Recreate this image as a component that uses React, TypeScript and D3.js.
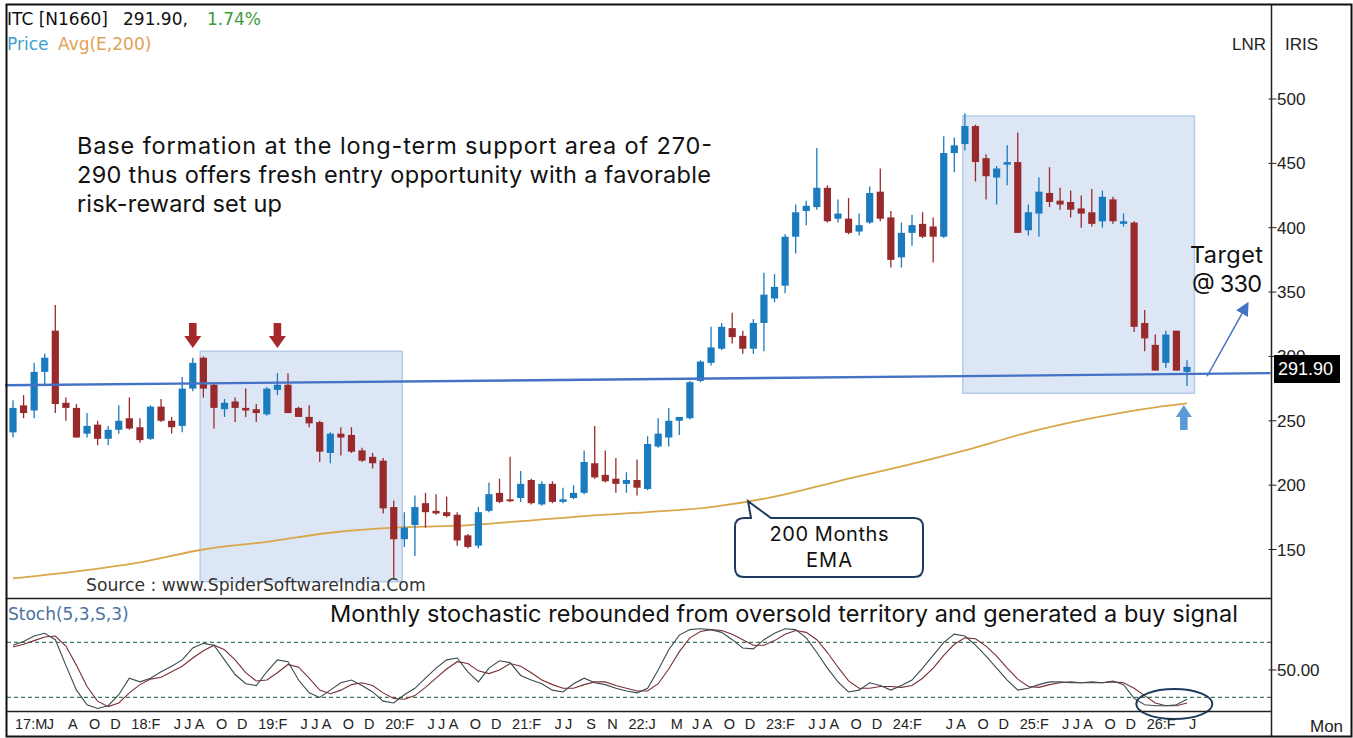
import React from "react";
import * as d3 from "d3";

// ---------- DATA (monthly, Mar 2017 .. Jun 2026) ----------
const startMonth = new Date(2017, 2, 1);
const endMonth = new Date(2026, 6, 1);

const opens = [241,262,258,288,320,264,260,240,247,236,243,252,245,236,261,250,246,275,299,278,
259,265,260,259,255,274,278,260,253,249,225,240,239,227,222,219,183,158,169,186,
180,179,177,161,153,180,194,189,190,204,185,201,187,190,194,217,208,205,201,204,
197,230,237,250,252,281,295,306,322,316,306,326,345,355,393,413,416,431,407,407,
397,404,428,408,377,396,403,401,393,458,465,479,454,439,449,451,398,411,427,421,
420,415,412,405,422,403,404,326,309,295,320,288];
const highs = [266,270,295,302,340,268,263,256,250,246,262,268,252,262,267,253,284,299,300,280,
267,268,275,263,276,287,287,261,262,250,241,245,245,229,225,221,188,179,192,194,
193,191,179,162,183,202,205,222,211,205,203,203,198,200,227,246,227,221,210,220,
238,252,260,253,281,297,323,326,334,320,329,365,364,395,418,421,462,433,422,423,
411,432,446,413,404,410,412,408,471,470,489,480,457,448,464,474,418,439,447,431,
429,425,430,429,424,411,405,336,317,320,320,297];
const lows = [237,252,252,278,256,250,237,237,231,231,240,243,233,235,249,240,241,273,268,244,
253,249,253,249,254,270,256,253,245,218,217,223,225,218,213,178,128,152,145,167,
177,175,153,151,151,179,186,187,187,185,184,186,186,189,193,205,202,194,194,192,
196,229,230,239,251,280,293,305,310,302,302,304,342,349,380,402,414,404,404,395,
394,403,405,369,369,386,392,373,392,443,460,436,422,418,433,396,394,393,416,414,
408,400,401,400,403,401,319,304,289,291,289,277];
const closes = [260,256,288,299,263,260,237,246,236,243,250,244,235,261,250,245,275,295,275,260,
264,260,258,256,275,278,256,253,248,226,240,237,226,219,217,182,158,167,183,179,
178,176,157,152,179,193,187,187.5,201,186,201,187,189,194,218,206,203,201,204,198,
232,240,250,253,280,296,307,323,315,306,326,348,354,393,412,417,431,405,411,396,
402,427,407,375,396,402,393,393,458,464,479,451,440,446,451,396,412,428,420,418,
414,411,403,424,405,405,323,314,289,317,289,291.9];

// 200-month EMA, read at every 6th month (index, value)
const emaIdx = [0,6,12,18,24,30,36,42,48,54,60,66,72,78,84,90,96,102,108,111];
const emaVal = [127.5,133,140,150,156,163,167,168.5,172,176,179,183,191,203,214.5,227,241,252,260.5,263.5];

// Stochastic (5,3,S,3): %K and %D
const stochK = [77,81,87,90,83,55,28,12,8,11,23,41,37,41,48,54,61,74,79,77,
61,45,35,33,48,61,59,39,25,20,28,36,39,33,26,16,14,23,30,41,
52,61,63,48,37,52,60,58,44,39,35,28,26,35,41,36,34,30,27,25,
30,50,72,88,94,95,94,91,83,74,73,83,90,95,94,85,69,52,37,26,
28,36,33,28,33,39,52,66,80,89,87,77,65,52,39,28,30,34,37,37,
36,36,37,36,38,34,19,12,11,11,12,18];
const stochD = [75,78,82,86,87,76,55,32,16,10,14,25,34,40,42,48,54,63,71,77,
72,61,47,38,39,47,56,53,41,28,24,28,34,36,33,25,19,18,22,31,
41,51,59,57,49,46,50,57,54,47,39,34,30,30,34,37,37,33,30,27,
27,35,51,70,85,92,94,93,89,83,77,77,82,89,93,91,83,69,53,38,
30,30,32,32,31,33,41,52,66,78,85,84,76,65,52,40,32,31,34,36,
37,36,36,36,37,36,30,22,14,11,11,14];

const priceTicks = [150,200,250,300,350,400,450,500];
const stochTicks = [50];
const stochLevels = [20,80];

const xTicks: [string, string][] = [
  ["2017-03","17:M"],["2017-06","J"],["2017-08","A"],["2017-10","O"],["2017-12","D"],
  ["2018-02","18:F"],["2018-06","J"],["2018-07","J"],["2018-08","A"],["2018-10","O"],["2018-12","D"],
  ["2019-02","19:F"],["2019-06","J"],["2019-07","J"],["2019-08","A"],["2019-10","O"],["2019-12","D"],
  ["2020-02","20:F"],["2020-06","J"],["2020-07","J"],["2020-08","A"],["2020-10","O"],["2020-12","D"],
  ["2021-02","21:F"],["2021-06","J"],["2021-07","J"],["2021-09","S"],["2021-11","N"],
  ["2022-01","22:J"],["2022-05","M"],["2022-07","J"],["2022-08","A"],["2022-10","O"],["2022-12","D"],
  ["2023-02","23:F"],["2023-06","J"],["2023-07","J"],["2023-08","A"],["2023-10","O"],["2023-12","D"],
  ["2024-02","24:F"],["2024-07","J"],["2024-08","A"],["2024-10","O"],["2024-12","D"],
  ["2025-02","25:F"],["2025-06","J"],["2025-07","J"],["2025-08","A"],["2025-10","O"],["2025-12","D"],
  ["2026-02","26:F"],["2026-06","J"],
];

// annotation anchors (index, price)
const supportLine = [[-0.75, 277.6],[118.9, 287]];
const box1 = { i0: 17.7, i1: 36.8, p0: 125, p1: 304 };
const box2 = { i0: 89.8, i1: 111.7, p0: 271.4, p1: 486.8 };
const redArrows = [17, 25];
const lastClose = 291.9;

const TAH = "'DejaVu Sans', Verdana, sans-serif";
const ARI = "'Liberation Sans', Arial, sans-serif";
const ANN = "Inter, 'Open Sans', 'Noto Sans', sans-serif";

export default function App() {
  const months = d3.timeMonth.range(startMonth, endMonth);
  const fmt = d3.timeFormat("%Y-%m");
  const idxOf = new Map(months.map((m, i) => [fmt(m), i]));

  const x = d3.scaleLinear().domain([0, months.length - 1]).range([13, 1187]);
  const yP = d3.scaleLinear().domain([150, 500]).range([549.5, 99]);
  const yS = d3.scaleLinear().domain([0, 100]).range([715.8, 624.1]);

  const left = 7, axisX = 1271.5;

  const emaLine = d3.line<number>()
    .x((_, k) => x(emaIdx[k]))
    .y((v) => yP(v))
    .curve(d3.curveMonotoneX)(emaVal) as string;
  const kLine = d3.line<number>().x((_, i) => x(i)).y((v) => yS(v))(stochK) as string;
  const dLine = d3.line<number>().x((_, i) => x(i)).y((v) => yS(v))(stochD) as string;

  const UP = "#1b7bbf", DN = "#992a2c";

  const tgtFrom = [x(112.9), yP(284.6)];
  const tgtTo = [x(116.7), yP(340.6)];

  // callout box
  const bx0 = 735, by0 = 518, bx1 = 923, by1 = 577, r = 9;
  const tip = [x(69.5), yP(187.5)];
  const callout = `M${bx0 + r},${by0} L${bx0 + 16},${by0} L${tip[0]},${tip[1]} L${bx0 + 36},${by0} L${bx1 - r},${by0} Q${bx1},${by0} ${bx1},${by0 + r} L${bx1},${by1 - r} Q${bx1},${by1} ${bx1 - r},${by1} L${bx0 + r},${by1} Q${bx0},${by1} ${bx0},${by1 - r} L${bx0},${by0 + r} Q${bx0},${by0} ${bx0 + r},${by0} Z`;

  const upX = x(110.7);

  return (
    <svg width={1353} height={738} style={{ position: "absolute", left: 0, top: 0, background: "#fff" }}>
      <defs>
        <marker id="ah" viewBox="0 0 10 10" refX="8" refY="5" markerWidth="9" markerHeight="9" orient="auto">
          <path d="M0,0 L10,5 L0,10 Z" fill="#4472c4" />
        </marker>
        <clipPath id="pclip"><rect x={left} y={5} width={axisX - left} height={593} /></clipPath>
      </defs>
      <rect x={0} y={0} width={1353} height={738} fill="#fff" />

      {/* shaded zones */}
      {[box1, box2].map((b, k) => (
        <rect key={k} x={x(b.i0)} y={yP(b.p1)} width={x(b.i1) - x(b.i0)} height={yP(b.p0) - yP(b.p1)}
          fill="rgb(196,214,236)" fillOpacity={0.6} stroke="#b5cdea" strokeWidth={1.5} />
      ))}

      {/* EMA */}
      <path d={emaLine} fill="none" stroke="#d9a74a" strokeWidth={1.8} />

      {/* candles */}
      <g clipPath="url(#pclip)">
        {opens.map((o, i) => {
          const c = closes[i];
          const col = c >= o ? UP : DN;
          const top = yP(Math.max(o, c)), bot = yP(Math.min(o, c));
          return (
            <g key={i}>
              <line x1={x(i)} x2={x(i)} y1={yP(highs[i])} y2={yP(lows[i])} stroke={col} strokeWidth={1.3} />
              <rect x={x(i) - 3.6} y={top} width={7.2} height={Math.max(bot - top, 1.5)} fill={col} />
            </g>
          );
        })}
      </g>

      {/* support line */}
      <line x1={x(supportLine[0][0])} y1={yP(supportLine[0][1])} x2={x(supportLine[1][0])} y2={yP(supportLine[1][1])}
        stroke="#4472c4" strokeWidth={2.4} />

      {/* target arrow */}
      <line x1={tgtFrom[0]} y1={tgtFrom[1]} x2={tgtTo[0]} y2={tgtTo[1]} stroke="#4472c4" strokeWidth={1.5} markerEnd="url(#ah)" />

      {/* red down arrows */}
      {redArrows.map((i) => {
        const cx = x(i);
        return <path key={i} d={`M${cx - 3.8},323 L${cx + 3.8},323 L${cx + 3.8},336 L${cx + 8.5},336 L${cx},348 L${cx - 8.5},336 L${cx - 3.8},336 Z`} fill="#a5282b" />;
      })}
      {/* blue up arrow */}
      <path d={`M${upX},405 L${upX + 8},417 L${upX + 3.8},417 L${upX + 3.8},430 L${upX - 3.8},430 L${upX - 3.8},417 L${upX - 8},417 Z`} fill="#5b9bd5" />

      {/* callout */}
      <path d={callout} fill="#fff" stroke="#1f3a5f" strokeWidth={2} />
      <text x={(bx0 + bx1) / 2} y={541} textAnchor="middle" fontFamily={ANN} fontSize={20} fill="#111" textLength={119} lengthAdjust="spacing">200 Months</text>
      <text x={(bx0 + bx1) / 2} y={567} textAnchor="middle" fontFamily={ANN} fontSize={20} fill="#111" textLength={46} lengthAdjust="spacing">EMA</text>

      {/* annotation texts */}
      <g fontFamily={ANN} fontSize={23.5} fill="#111">
        <text x={77} y={154} textLength={635} lengthAdjust="spacing">Base formation at the long-term support area of 270-</text>
        <text x={77} y={183} textLength={634} lengthAdjust="spacing">290 thus offers fresh entry opportunity with a favorable</text>
        <text x={77} y={212} textLength={205} lengthAdjust="spacing">risk-reward set up</text>
        <text x={1190} y={263} fontSize={23.5} textLength={73} lengthAdjust="spacing">Target</text>
        <text x={1192} y={292} fontSize={23.5} textLength={70} lengthAdjust="spacing">@ 330</text>
        <text x={330} y={622} textLength={908} lengthAdjust="spacing">Monthly stochastic rebounded from oversold territory and generated a buy signal</text>
      </g>
      <text x={86} y={591} fontFamily={TAH} fontSize={17.2} fill="#333">Source : www.SpiderSoftwareIndia.Com</text>

      {/* header */}
      <g fontFamily={TAH} fontSize={17}>
        <text x={7} y={25} fill="#111">ITC [N1660]</text>
        <text x={123} y={25} fill="#111">291.90,</text>
        <text x={207} y={25} fill="#3b9a3b">1.74%</text>
        <text x={7} y={50} fill="#3a9fd0">Price</text>
        <text x={58} y={50} fill="#e0a257">Avg(E,200)</text>
      </g>
      <text x={1266} y={50} textAnchor="end" fontFamily={ARI} fontSize={17} fill="#222">LNR</text>
      <text x={1285} y={50} fontFamily={ARI} fontSize={17} fill="#222">IRIS</text>

      {/* price axis */}
      {priceTicks.map((t) => (
        <g key={t}>
          <line x1={axisX - 3} x2={axisX + 5} y1={yP(t)} y2={yP(t)} stroke="#222" strokeWidth={1} />
          <text x={1277} y={yP(t) + 6} fontFamily={ARI} fontSize={17} fill="#222">{t}</text>
        </g>
      ))}
      <rect x={1274} y={355} width={66} height={28} fill="#000" />
      <text x={1278} y={375} fontFamily={ARI} fontSize={18} fill="#fff">{lastClose.toFixed(2)}</text>

      {/* stochastic panel */}
      <text x={8} y={620} fontFamily={TAH} fontSize={17} fill="#4a72a0">Stoch(5,3,S,3)</text>
      {stochLevels.map((l) => (
        <line key={l} x1={left} x2={axisX} y1={yS(l)} y2={yS(l)} stroke="#3f7a5c" strokeWidth={1.2} strokeDasharray="4,3" />
      ))}
      <path d={dLine} fill="none" stroke="#7a2f33" strokeWidth={1.1} />
      <path d={kLine} fill="none" stroke="#3a4a50" strokeWidth={1.1} />
      {stochTicks.map((t) => (
        <g key={t}>
          <line x1={axisX - 3} x2={axisX + 5} y1={yS(t)} y2={yS(t)} stroke="#222" />
          <text x={1277} y={yS(t) + 6} fontFamily={ARI} fontSize={17} fill="#222">{t.toFixed(2)}</text>
        </g>
      ))}
      <ellipse cx={x(109.8)} cy={704} rx={38} ry={15} fill="none" stroke="#1f3a5f" strokeWidth={2} />

      {/* x axis */}
      {xTicks.map(([m, lab]) => {
        const i = idxOf.get(m);
        if (i === undefined) return null;
        return <text key={m} x={x(i) + 2} y={729} fontFamily={ARI} fontSize={14.5} fill="#222">{lab}</text>;
      })}
      <text x={1310} y={732} fontFamily={ARI} fontSize={17} fill="#222">Mon</text>

      {/* frame & separators */}
      <line x1={left} x2={axisX} y1={598.5} y2={598.5} stroke="#222" strokeWidth={1.5} />
      <line x1={left} x2={axisX} y1={711.5} y2={711.5} stroke="#222" strokeWidth={1.5} />
      <line x1={axisX} x2={axisX} y1={5} y2={736} stroke="#222" strokeWidth={1.5} />
      <rect x={6.5} y={4.5} width={1345} height={732} fill="none" stroke="#111" strokeWidth={2} />
    </svg>
  );
}
